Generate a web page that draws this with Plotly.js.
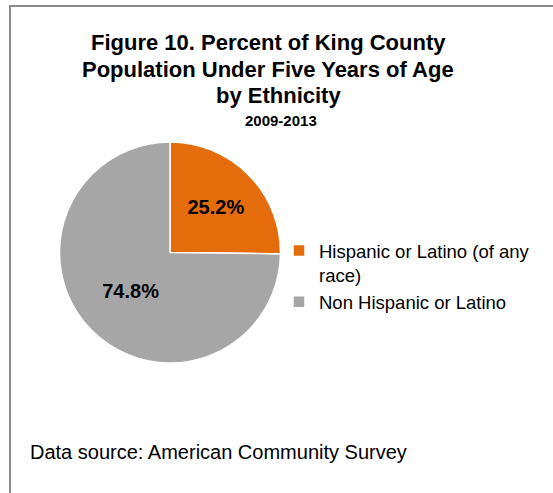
<!DOCTYPE html>
<html>
<head>
<meta charset="utf-8">
<script src="https://cdn.plot.ly/plotly-3.0.1.min.js"></script>
<style>html,body{margin:0;padding:0;background:#fff;}#chart{width:553px;height:493px;}</style>
</head>
<body>
<div id="chart"></div>
<script>
const categories = ["Hispanic or Latino (of any<br>race)", "Non Hispanic or Latino"];
const values = [25.2, 74.8];
const colors = ["#E46C0A", "#A6A6A6"];
const titleLines = ["Figure 10. Percent of King County", "Population Under Five Years of Age", "by Ethnicity"];
const subtitleText = "2009-2013";
const sourceText = "Data source: American Community Survey";

const W = 553, H = 493;
const cx = 170, cy = 252.5, r = 110.5;
const FONT = "Liberation Sans, Arial, sans-serif";

const trace = {
  type: "pie",
  labels: categories,
  values: values,
  sort: false,
  direction: "clockwise",
  rotation: 0,
  marker: {colors: colors, line: {color: "#ffffff", width: 1.5}},
  texttemplate: "%{value:.1f}%",
  textposition: "inside",
  insidetextorientation: "horizontal",
  textfont: {family: FONT, size: 20, color: "#000000", weight: "bold"},
  hoverinfo: "label+percent",
  domain: {x: [(cx - r) / W, (cx + r) / W], y: [(H - cy - r) / H, (H - cy + r) / H]}
};

const titleX = [268, 268, 278];
const titleY = [42.5, 69.2, 95.5];
const annotations = titleLines.map((t, i) => ({
  text: "<b>" + t + "</b>", xref: "paper", yref: "paper",
  x: titleX[i] / W, y: (H - titleY[i]) / H, xanchor: "center", yanchor: "middle",
  showarrow: false, font: {family: FONT, size: 22, color: "#000000"}
}));
annotations.push({
  text: "<b>" + subtitleText + "</b>", xref: "paper", yref: "paper",
  x: 281 / W, y: (H - 120.5) / H, xanchor: "center", yanchor: "middle",
  showarrow: false, font: {family: FONT, size: 15, color: "#000000"}
});
annotations.push({
  text: sourceText, xref: "paper", yref: "paper",
  x: 28 / W, y: (H - 452) / H, xanchor: "left", yanchor: "middle",
  showarrow: false, font: {family: FONT, size: 20, color: "#000000"}
});

const layout = {
  width: W, height: H,
  margin: {l: 0, r: 0, t: 0, b: 0},
  paper_bgcolor: "#ffffff",
  font: {family: FONT, color: "#000000"},
  showlegend: true,
  legend: {
    x: 279 / W, xanchor: "left",
    y: 1 - 232 / H, yanchor: "top",
    font: {size: 18.5, color: "#000000"},
    valign: "top",
    tracegroupgap: 0,
    bgcolor: "rgba(0,0,0,0)"
  },
  annotations: annotations,
  shapes: [
    {type: "line", xref: "paper", yref: "paper", x0: 10 / W, x1: 10 / W, y0: 0, y1: 1 - 6 / H, line: {color: "#8C8C8C", width: 2}},
    {type: "line", xref: "paper", yref: "paper", x0: 9 / W, x1: 1, y0: 1 - 6 / H, y1: 1 - 6 / H, line: {color: "#8C8C8C", width: 2}}
  ]
};

Plotly.newPlot("chart", [trace], layout, {displayModeBar: false, staticPlot: true});
</script>
</body>
</html>
